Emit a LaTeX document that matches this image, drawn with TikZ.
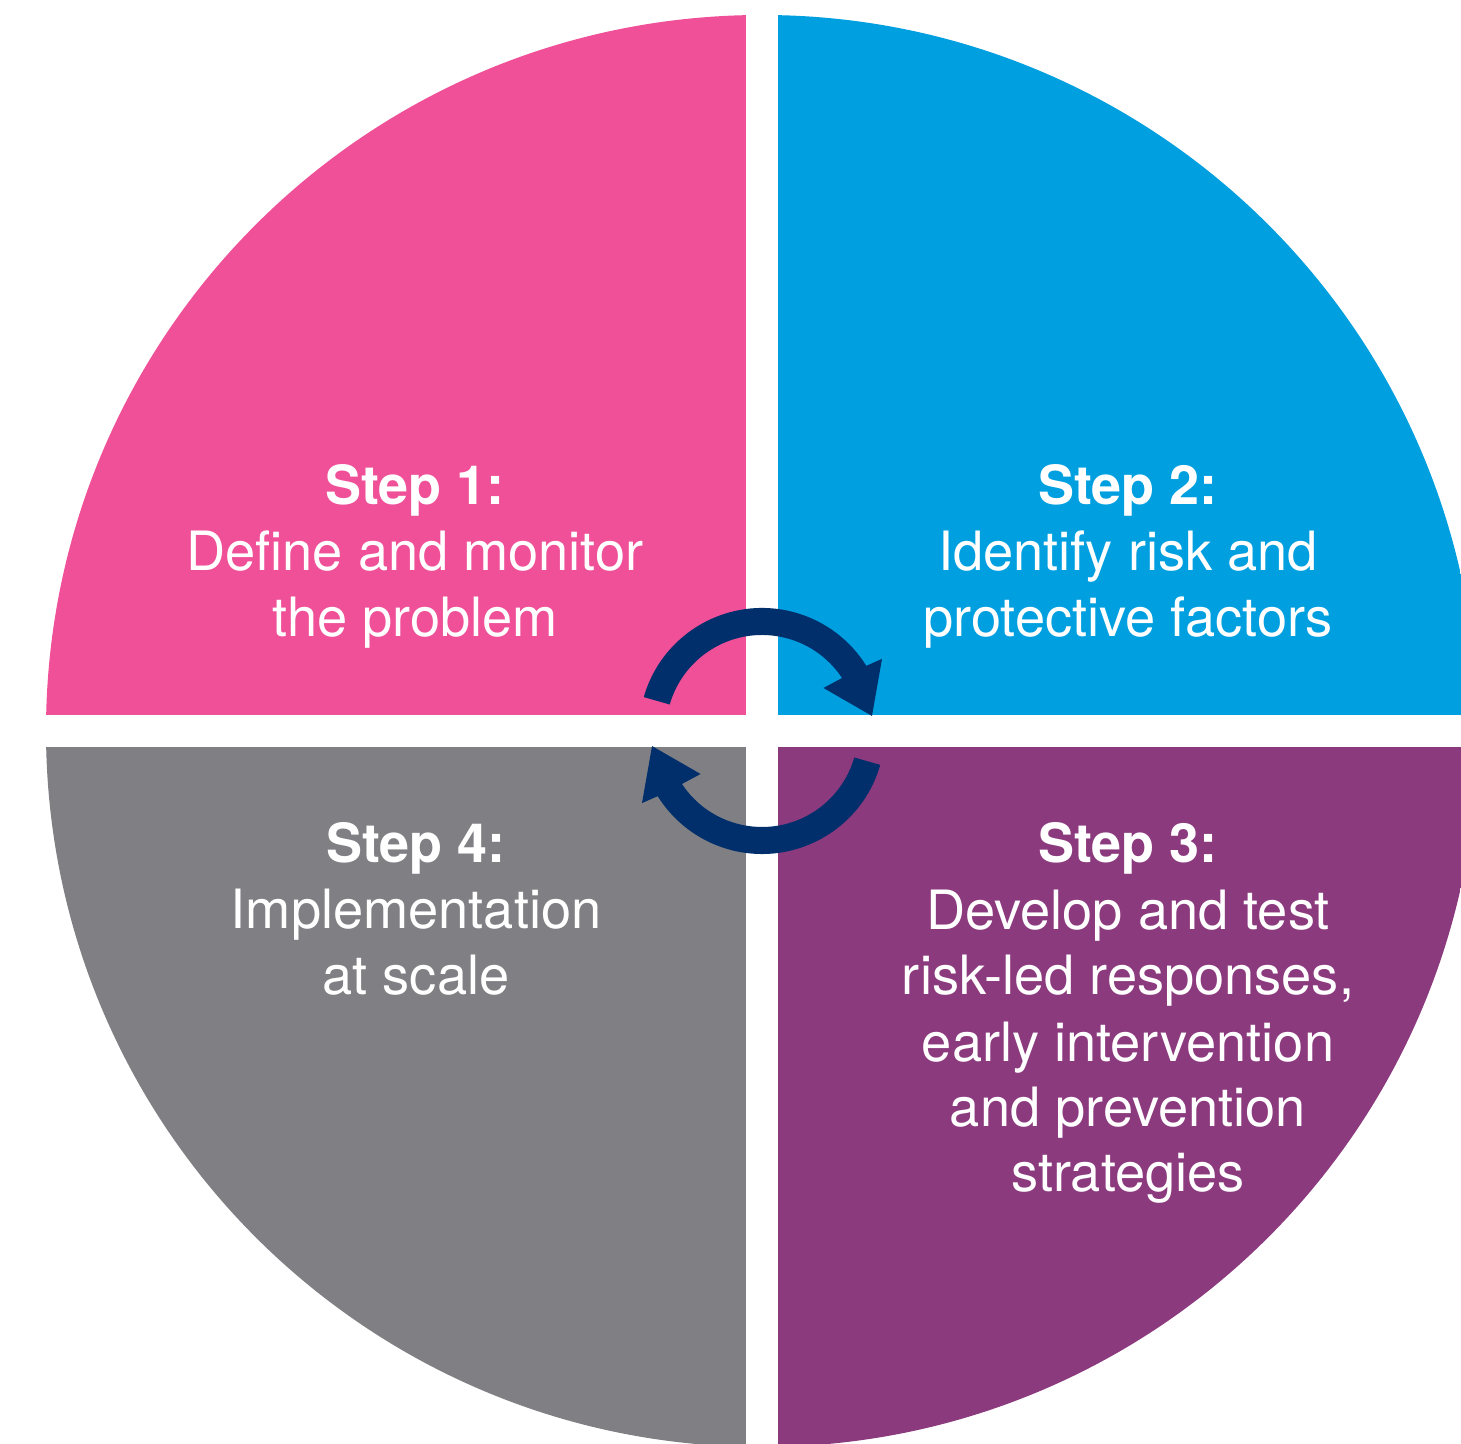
\documentclass[tikz,border=0pt]{standalone}
\usepackage{fontspec}
\setmainfont{TeX Gyre Heros}
\definecolor{pinkq}{RGB}{239,80,152}
\definecolor{blueq}{RGB}{0,159,223}
\definecolor{purpq}{RGB}{140,58,126}
\definecolor{grayq}{RGB}{128,128,132}
\definecolor{navyq}{RGB}{0,47,108}
\begin{document}
\begin{tikzpicture}[x=0.5pt,y=0.5pt,
  steptitle/.style={font=\fontsize{27}{31}\selectfont\bfseries, text=white, anchor=base, inner sep=0pt},
  steptext/.style={font=\fontsize{27.1}{33}\selectfont, text=white, anchor=base, inner sep=0pt},
  cyclearrow/.style={fill=navyq}]
\clip (0,0) rectangle (1461,1444);
\fill[white] (0,0) rectangle (1461,1444);
% quadrants
\begin{scope}
  \clip (762,713) circle[radius=716];
  \fill[pinkq] (0,729) rectangle (746,1444);
  \fill[blueq] (778,729) rectangle (1461,1444);
  \fill[purpq] (778,0) rectangle (1461,697);
  \fill[grayq] (0,0) rectangle (746,697);
\end{scope}
% cycle arrows
\begin{scope}[shift={(762,713)}]
  \fill[cyclearrow] (164:123) arc[start angle=164,end angle=32,radius=123]
    -- (31:140) -- (7.8:111) -- (35:75) -- (33.5:96)
    arc[start angle=33.5,end angle=164,radius=96] -- cycle;
  \fill[cyclearrow] (344:123) arc[start angle=344,end angle=212,radius=123]
    -- (211:140) -- (187.8:111) -- (215:75) -- (213.5:96)
    arc[start angle=213.5,end angle=344,radius=96] -- cycle;
\end{scope}
% Step 1
\node[steptitle] (s1a) at (415,939) {Step 1:};
\node[steptext] (s1b) at (415,873) {Define and monitor};
\node[steptext] (s1c) at (415,807) {the problem};
% Step 2
\node[steptitle] (s2a) at (1128,939) {Step 2:};
\node[steptext] (s2b) at (1128,873) {Identify risk and};
\node[steptext] (s2c) at (1128,807) {protective factors};
% Step 3
\node[steptitle] (s3a) at (1128,581) {Step 3:};
\node[steptext] (s3b) at (1128,514) {Develop and test};
\node[steptext] (s3c) at (1128,449) {risk-led responses,};
\node[steptext] (s3d) at (1128,382) {early intervention};
\node[steptext] (s3e) at (1128,317) {and prevention};
\node[steptext] (s3f) at (1128,252) {strategies};
% Step 4
\node[steptitle] (s4a) at (416,581) {Step 4:};
\node[steptext] (s4b) at (416,515) {Implementation};
\node[steptext] (s4c) at (416,449) {at scale};
\end{tikzpicture}
\end{document}
